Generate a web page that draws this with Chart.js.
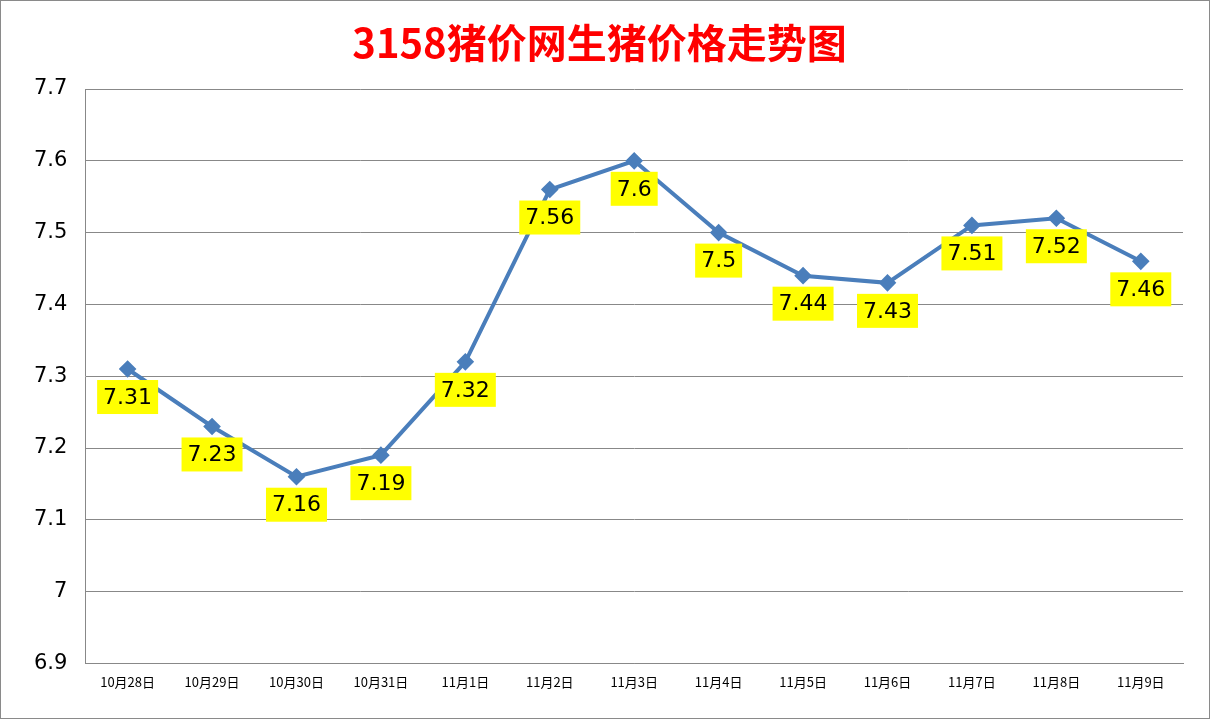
<!DOCTYPE html>
<html><head><meta charset="utf-8">
<script src="https://cdn.jsdelivr.net/npm/chart.js@4/dist/chart.umd.min.js"></script>
<style>
html,body{margin:0;padding:0;background:#fff;}
#wrap{position:absolute;left:0;top:0;width:1208px;height:717px;border:1px solid #8a8a8a;}
</style></head><body>
<div id="wrap"><canvas id="c" width="1208" height="717"></canvas></div>
<script>
const dates = ["10月28日","10月29日","10月30日","10月31日","11月1日","11月2日","11月3日","11月4日","11月5日","11月6日","11月7日","11月8日","11月9日"];
const prices = [7.31,7.23,7.16,7.19,7.32,7.56,7.6,7.5,7.44,7.43,7.51,7.52,7.46];

/* yellow value boxes under each point */
const valueBoxes = {
  id: "valueBoxes",
  afterDatasetsDraw(chart) {
    const ctx = chart.ctx;
    const meta = chart.getDatasetMeta(0);
    ctx.save();
    ctx.font = "22px 'DejaVu Sans', sans-serif";
    ctx.textAlign = "center";
    ctx.textBaseline = "middle";
    meta.data.forEach((pt, i) => {
      const txt = String(prices[i]);
      const w = ctx.measureText(txt).width + 12;
      const h = 34;
      const cx = pt.x, cy = pt.y + 28;
      ctx.fillStyle = "#ffff00";
      ctx.fillRect(cx - w / 2, cy - h / 2, w, h);
      ctx.fillStyle = "#000";
      ctx.fillText(txt, cx, cy + 1);
    });
    ctx.restore();
  }
};

new Chart(document.getElementById("c"), {
  type: "line",
  data: {
    labels: dates,
    datasets: [{
      data: prices,
      borderColor: "#4a7ebb",
      backgroundColor: "#4a7ebb",
      borderWidth: 4,
      pointStyle: "rectRot",
      pointRadius: 6,
      tension: 0
    }]
  },
  options: {
    responsive: false,
    animation: false,
    layout: { padding: { left: 15, right: 26, top: 18, bottom: 25 } },
    plugins: {
      legend: { display: false },
      tooltip: { enabled: false },
      title: {
        display: true,
        text: "3158猪价网生猪价格走势图",
        color: "#ff0000",
        font: { size: 40, weight: "bold", family: "'Noto Sans CJK SC', sans-serif" },
        padding: { top: 0, bottom: 22 }
      }
    },
    scales: {
      x: {
        offset: true,
        grid: { display: false },
        border: { color: "#888" },
        ticks: { color: "#000", font: { size: 13, family: "'Noto Sans CJK SC', sans-serif" }, maxRotation: 0 }
      },
      y: {
        min: 6.9, max: 7.7,
        grid: { color: "#888", lineWidth: 1, drawTicks: false },
        border: { color: "#888" },
        ticks: { stepSize: 0.1, color: "#000", padding: 18,
          font: { size: 21, family: "'DejaVu Sans', sans-serif" },
          callback: v => String(Math.round(v * 10) / 10) }
      }
    }
  },
  plugins: [valueBoxes]
});
</script>
</body></html>
